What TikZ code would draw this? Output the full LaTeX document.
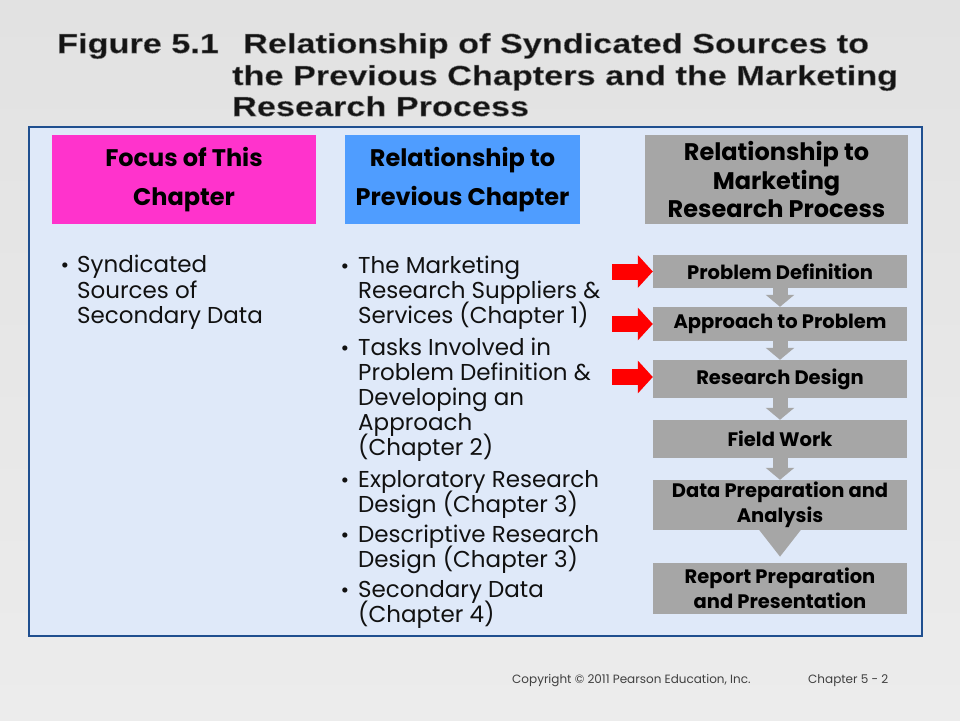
\documentclass[tikz,border=0pt]{standalone}
\usepackage{fontspec}
\setmainfont{Poppins}
\newfontfamily\arialf[FakeStretch=1.245]{Liberation Sans}
\newfontfamily\cg{Poppins}
\usetikzlibrary{arrows.meta,calc}
\definecolor{bgtop}{HTML}{E2E2E2}
\definecolor{bgbot}{HTML}{ECECEC}
\definecolor{framefill}{HTML}{DFE9F9}
\definecolor{frameline}{HTML}{1F4F8F}
\definecolor{pinkc}{HTML}{FF33CC}
\definecolor{bluec}{HTML}{4F9DFF}
\definecolor{grayc}{HTML}{A6A6A6}
\definecolor{redc}{HTML}{FF0000}
\definecolor{titlec}{HTML}{141414}
\definecolor{txtc}{HTML}{111111}
\definecolor{footc}{HTML}{404040}
\newcommand\outlinetext[1]{\special{pdf:literal direct 2 Tr 0.5 w 0.5 0.5 0.5 RG}#1\special{pdf:literal direct 0 Tr}}
\tikzset{
  ttl/.style={anchor=base west, inner sep=0pt, text=titlec, font=\arialf\bfseries\fontsize{27.5}{27.5}\selectfont},
  hdr/.style={inner sep=0pt, align=center, text=black},
  proc/.style={fill=grayc, inner sep=0pt, minimum width=254pt, align=center,
    font=\cg\bfseries\fontsize{19.5}{25}\selectfont, text=black},
  bodyline/.style={anchor=base west, inner sep=0pt, text=txtc, font=\cg\fontsize{23}{25}\selectfont},
  bul/.style={anchor=base, inner sep=0pt, text=txtc, font=\cg\fontsize{21}{25}\selectfont},
  grayarrow/.style={draw=grayc, line width=15pt, -{Triangle[width=28pt,length=12pt]}},
  bigarrow/.style={draw=grayc, line width=22pt, -{Triangle[width=40pt,length=27pt]}},
  redarrow/.style={draw=redc, line width=16pt, -{Triangle[width=32pt,length=15pt]}},
  foot/.style={anchor=base west, inner sep=0pt, text=footc, font=\cg\fontsize{12}{14}\selectfont}
}
\begin{document}
\begin{tikzpicture}[x=1pt,y=-1pt]
\useasboundingbox (0,0) rectangle (960,720);
\shade[top color=bgtop, bottom color=bgbot] (0,0) rectangle (960,720);
% title
\node[ttl] (t1) at (57,53) {\outlinetext{Figure 5.1}};
\node[ttl] (t2) at (243,53) {\outlinetext{Relationship of Syndicated Sources to}};
\node[ttl] (t3) at (232,85) {\outlinetext{the Previous Chapters and the Marketing}};
\node[ttl] (t4) at (232,116) {\outlinetext{Research Process}};
% frame
\draw[draw=frameline, fill=framefill, line width=2pt] (29,127) rectangle (922,636);
% headers
\node[hdr, fill=pinkc, minimum width=264pt, minimum height=89pt,
  font=\cg\bfseries\fontsize{24}{39}\selectfont] (h1) at (184,179.5) {Focus of This\\Chapter};
\node[hdr, fill=bluec, minimum width=235pt, minimum height=89pt,
  font=\cg\bfseries\fontsize{24}{39}\selectfont] (h2) at (462.5,179.5) {Relationship to\\Previous Chapter};
\node[hdr, fill=grayc, minimum width=263pt, minimum height=89pt,
  font=\cg\bfseries\fontsize{24}{28.5}\selectfont] (h3) at (776.5,179.5) {Relationship to\\Marketing\\Research Process};
% left bullets
\node[bul] (lb1) at (65,272) {\textbullet};
\foreach \yy/\tt [count=\i] in {272/Syndicated, 298/Sources of, 323/Secondary Data}
  \node[bodyline] (left\i) at (77,\yy) {\tt};
% middle bullets
\foreach \yy [count=\i] in {273,355,487,542,597}
  \node[bul] (mb\i) at (345,\yy) {\textbullet};
\foreach \yy/\tt [count=\i] in {273/The Marketing, 298/Research Suppliers \&, 323/Services (Chapter 1),
   355/Tasks Involved in, 380/Problem Definition \&, 405/Developing an, 430/Approach, 455/(Chapter 2),
   487/Exploratory Research, 512/Design (Chapter 3), 542/Descriptive Research, 567/Design (Chapter 3),
   597/Secondary Data, 622/(Chapter 4)}
  \node[bodyline] (mid\i) at (358,\yy) {\tt};
% process boxes
\node[proc, minimum height=33pt] (b1) at (780,271.5) {Problem Definition};
\node[proc, minimum height=34pt] (b2) at (780,324) {Approach to Problem};
\node[proc, minimum height=38pt] (b3) at (780,379) {Research Design};
\node[proc, minimum height=38pt] (b4) at (780,439) {Field Work};
\node[proc, minimum height=50pt] (b5) at (780,505) {Data Preparation and\\Analysis};
\node[proc, minimum height=51pt] (b6) at (780,588.5) {Report Preparation\\and Presentation};
\draw[grayarrow] (b1.south) -- (b2.north);
\draw[grayarrow] (b2.south) -- (b3.north);
\draw[grayarrow] (b3.south) -- (b4.north);
\draw[grayarrow] (b4.south) -- (b5.north);
\draw[bigarrow] ($(b5.south)+(0,-1)$) -- ($(b6.north)+(0,-6)$);
% red arrows
\coordinate (r1) at (612,271.5);
\coordinate (r2) at (612,324);
\coordinate (r3) at (612,377);
\draw[redarrow] (r1) -- (b1.west);
\draw[redarrow] (r2) -- (b2.west);
\draw[redarrow] (r3) -- (b3.west |- r3);
% footer
\node[foot] (f1) at (512,683) {Copyright \textcopyright{} 2011 Pearson Education, Inc.};
\node[foot] (f2) at (808,683) {Chapter 5 - 2};
\end{tikzpicture}
\end{document}
